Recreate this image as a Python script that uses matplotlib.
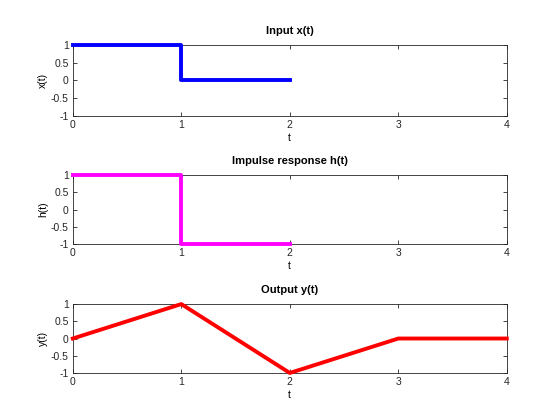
import matplotlib
matplotlib.use("Agg")
import matplotlib.pyplot as plt

plt.rcParams['font.family'] = ['Liberation Sans', 'DejaVu Sans']
plt.rcParams['font.size'] = 7.5

# input x(t)
t_x = [0, 1, 1, 2]
x_vals = [1, 1, 0, 0]

# impulse response h(t)
t_h = [0, 1, 1, 2]
h_vals = [1, 1, -1, -1]

# output y(t)
t_y = [0, 1, 2, 3, 4]
y_vals = [0, 1, -1, 0, 0]

yticks = [-1, -0.5, 0, 0.5, 1]
yticklabels = ['-1', '-0.5', '0', '0.5', '1']
xticks = [0, 1, 2, 3, 4]

panels = [
    (t_x, x_vals, 'blue', 'Input x(t)', 'x(t)', [0.893, 0.724]),
    (t_h, h_vals, 'magenta', 'Impulse response h(t)', 'h(t)', [0.583, 0.419]),
    (t_y, y_vals, 'red', 'Output y(t)', 'y(t)', [0.276, 0.112]),
]

fig = plt.figure(figsize=(5.6, 4.2), dpi=100)
for t, v, col, title, ylab, (top, bot) in panels:
    ax = fig.add_axes([0.130, bot, 0.905 - 0.130, top - bot])
    ax.plot(t, v, color=col, linewidth=2.8, clip_on=False, zorder=3)
    ax.set_xlim(0, 4)
    ax.set_ylim(-1, 1)
    ax.set_xticks(xticks)
    ax.set_yticks(yticks)
    ax.set_yticklabels(yticklabels)
    ax.tick_params(direction='in', top=True, right=True, length=3,
                   width=0.6, colors='#262626', labelcolor='#262626', pad=3)
    for s in ax.spines.values():
        s.set_linewidth(0.6)
        s.set_color('#262626')
    ax.set_title(title, fontweight='bold', fontsize=8, pad=8)
    ax.set_xlabel('t', labelpad=2)
    ax.set_ylabel(ylab, labelpad=2)

fig.savefig('out.png', dpi=100)
